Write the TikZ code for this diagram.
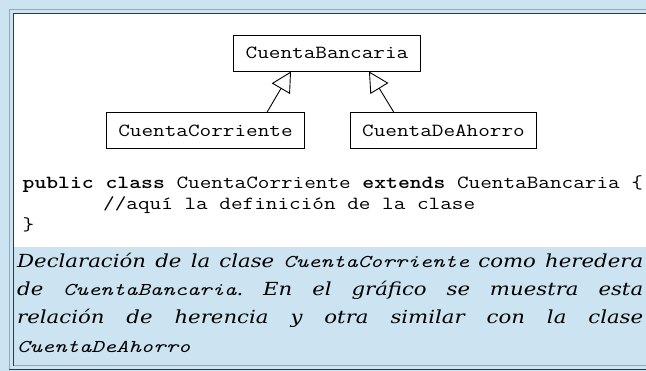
\documentclass[tikz,border=0pt]{standalone}
\usepackage{fontspec}
\usepackage{graphicx}
\usetikzlibrary{arrows.meta}
\newfontfamily\capserif{DejaVu Serif}[FakeStretch=1.18]
\definecolor{bgblue}{RGB}{204,228,241}
\definecolor{framegray}{RGB}{158,166,172}
\definecolor{framedark}{RGB}{48,56,64}
\newcommand\tmono[1]{\scalebox{1.22}[1]{#1}}
\newcommand\capm[1]{{\ttfamily\itshape\fontsize{18}{20}\selectfont\scalebox{1.31}[1]{#1}}}
\begin{document}
\frenchspacing
\begin{tikzpicture}[x=1pt,y=-1pt,
  classbox/.style={draw=black, line width=0.9pt, fill=white, minimum height=36pt,
    inner xsep=12pt, inner ysep=0pt, font=\fontsize{18.5}{20}\selectfont\ttfamily},
  inherit/.style={draw=black, line width=0.9pt, -{Triangle[open,length=20pt,width=21pt]}},
  codeline/.style={anchor=base west, inner sep=0pt, font=\fontsize{18.5}{20}\selectfont\ttfamily},
  capline/.style={anchor=base west, inner sep=0pt, font=\capserif\itshape\fontsize{18}{20}\selectfont}]
\useasboundingbox (0,0) rectangle (646,371);
\fill[bgblue] (0,0) rectangle (646,371);
\fill[white] (14,14) rectangle (646,247);
% outer frame
\draw[framegray, line width=1pt] (646,9.5) -- (9.5,9.5) -- (9.5,369.5);
\draw[framedark, line width=1.2pt] (9,369.6) -- (646,369.6);
% inner frame
\draw[framedark, line width=1.6pt] (646,13.5) -- (13.5,13.5) -- (13.5,366);
\draw[framegray, line width=1pt] (13.5,365.5) -- (646,365.5);
% class diagram
\node[classbox] (cb) at (327,53) {\tmono{CuentaBancaria}};
\node[classbox] (cc) at (205.5,130.5) {\tmono{CuentaCorriente}};
\node[classbox] (cd) at (443.5,130.5) {\tmono{CuentaDeAhorro}};
\draw[inherit] ([xshift=-38pt]cc.north east) -- ([xshift=-36pt]cb.south);
\draw[inherit] ([xshift=44pt]cd.north west) -- ([xshift=42pt]cb.south);
% code
\node[codeline] (code1) at (22.5,189) {\tmono{\textbf{public class} CuentaCorriente \textbf{extends} CuentaBancaria \{}};
\node[codeline] (code2) at (103,210) {\tmono{//aquí la definición de la clase}};
\node[codeline] (code3) at (22.5,231) {\tmono{\}}};
% caption
\node[capline] (cap1) at (17,268) {\makebox[626pt][s]{Declaración de la clase \capm{CuentaCorriente} como heredera}};
\node[capline] (cap2) at (17,296) {\makebox[626pt][s]{de \capm{CuentaBancaria}. En el gráfico se muestra esta}};
\node[capline] (cap3) at (17,324) {\makebox[626pt][s]{relación de herencia y otra similar con la clase}};
\node[capline] (cap4) at (17,353) {\capm{CuentaDeAhorro}};
\end{tikzpicture}
\end{document}
